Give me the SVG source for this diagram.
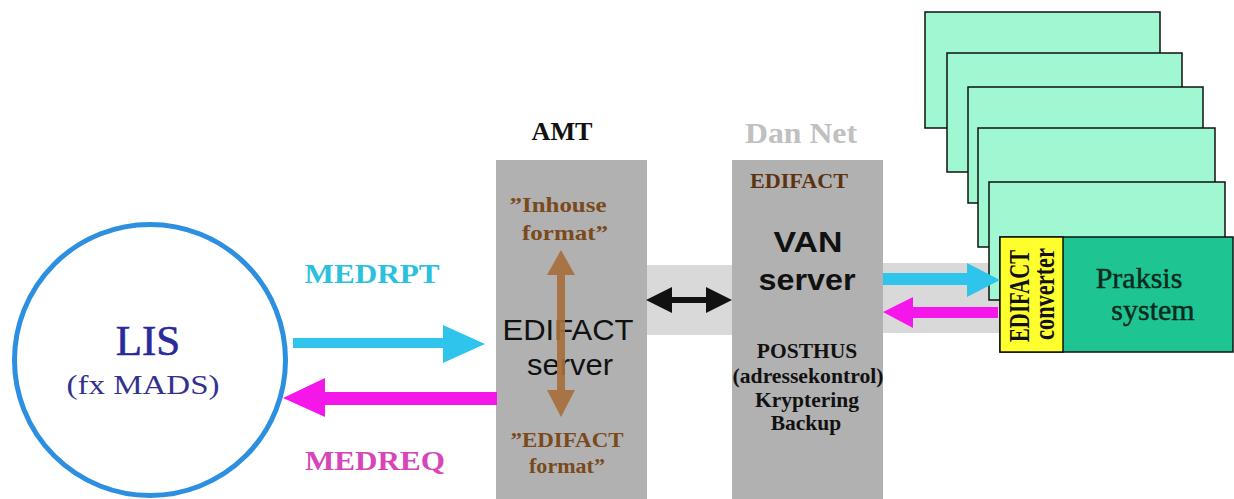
<svg xmlns="http://www.w3.org/2000/svg" width="1234" height="499" viewBox="0 0 1234 499">
<style>
.serif{font-family:"Liberation Serif","Times New Roman",serif}
.sans{font-family:"Liberation Sans",Arial,sans-serif}
.b{font-weight:bold}
.brown{fill:#7a4a1c}
.box{fill:#b1b1b1}
.band{fill:#d9d9d9}
.stack{fill:#a0f8d2;stroke:#111;stroke-width:1.5}
.mid{text-anchor:middle}
</style>
<rect width="1234" height="499" fill="#fff"/>

<g id="bands">
<rect class="band" x="647" y="265" width="85" height="70"/>
<rect class="band" x="883" y="263" width="117" height="70"/>
</g>

<g id="lis">
<circle cx="150" cy="360" r="135.5" fill="none" stroke="#2d8fe0" stroke-width="5"/>
<text class="serif mid" x="148" y="355" font-size="43" fill="#2a2a9a" stroke="#2a2a9a" stroke-width="0.6">LIS</text>
<text class="serif mid" x="143" y="394" font-size="28" fill="#33338f" textLength="153" lengthAdjust="spacingAndGlyphs">(fx MADS)</text>
</g>

<g id="amt">
<text class="serif b mid" x="562" y="140" font-size="26" fill="#111" textLength="61" lengthAdjust="spacingAndGlyphs">AMT</text>
<rect class="box" x="496" y="160" width="151" height="339"/>
<text class="serif b mid brown" x="558" y="212" font-size="22" textLength="97" lengthAdjust="spacingAndGlyphs">”Inhouse</text>
<text class="serif b mid brown" x="565" y="240" font-size="22" textLength="86" lengthAdjust="spacingAndGlyphs">format”</text>
<text class="sans mid" x="568" y="340" font-size="30" fill="#111" textLength="131" lengthAdjust="spacingAndGlyphs">EDIFACT</text>
<text class="sans mid" x="570" y="375" font-size="30" fill="#111" textLength="86" lengthAdjust="spacingAndGlyphs">server</text>
<text class="serif b mid brown" x="567" y="447" font-size="22" textLength="113" lengthAdjust="spacingAndGlyphs">”EDIFACT</text>
<text class="serif b mid brown" x="567" y="473" font-size="22" textLength="76" lengthAdjust="spacingAndGlyphs">format”</text>
<polygon fill="#a86f3c" opacity="0.92" points="561,250 575,275 565,275 565,390 575,390 561,417 547,390 557,390 557,275 547,275"/>
</g>

<g id="dannet">
<text class="serif b mid" x="801" y="143" font-size="30" fill="#c0c0c0" textLength="112" lengthAdjust="spacingAndGlyphs">Dan Net</text>
<rect class="box" x="732" y="160" width="151" height="339"/>
<text class="serif b mid" x="799" y="188" font-size="22" fill="#5c3212" textLength="98" lengthAdjust="spacingAndGlyphs">EDIFACT</text>
<text class="sans b mid" x="808" y="252" font-size="30" fill="#111" textLength="69" lengthAdjust="spacingAndGlyphs">VAN</text>
<text class="sans b mid" x="807" y="290" font-size="30" fill="#111" textLength="97" lengthAdjust="spacingAndGlyphs">server</text>
<text class="serif b mid" x="807" y="358" font-size="21.5" fill="#111">POSTHUS</text>
<text class="serif b mid" x="808" y="383" font-size="21.5" fill="#111" textLength="151" lengthAdjust="spacingAndGlyphs">(adressekontrol)</text>
<text class="serif b mid" x="807" y="407" font-size="21.5" fill="#111">Kryptering</text>
<text class="serif b mid" x="806" y="430" font-size="21.5" fill="#111">Backup</text>
</g>

<g id="praksis">
<rect class="stack" x="925" y="12" width="235" height="116"/>
<rect class="stack" x="947" y="53" width="235" height="119"/>
<rect class="stack" x="968" y="87" width="235" height="116"/>
<rect class="stack" x="978" y="128" width="237" height="119"/>
<rect class="stack" x="989" y="182" width="236" height="118"/>
<rect x="1000" y="237" width="233" height="115" fill="#1ec592" stroke="#111" stroke-width="1.5"/>
<rect x="1000" y="237" width="63" height="115" fill="#ffff2e" stroke="#111" stroke-width="1.5"/>
<text class="serif b mid" transform="translate(1029,296) rotate(-90) scale(1,1.35)" font-size="22" fill="#111" textLength="92" lengthAdjust="spacingAndGlyphs">EDIFACT</text>
<text class="serif b mid" transform="translate(1054,294) rotate(-90) scale(1,1.35)" font-size="22" fill="#111" textLength="92" lengthAdjust="spacingAndGlyphs">converter</text>
<text class="serif mid" x="1139" y="288" font-size="30" fill="#0c2a1e" stroke="#0c2a1e" stroke-width="0.5">Praksis</text>
<text class="serif mid" x="1153" y="320" font-size="30" fill="#0c2a1e" stroke="#0c2a1e" stroke-width="0.5">system</text>
</g>

<g id="connectors">
<polygon fill="#2ec4ec" points="293,338 443,338 443,325 485,344 443,363 443,348 293,348"/>
<polygon fill="#f516ea" points="497,392 325,392 325,378 283,398 325,417 325,405 497,405"/>
<polygon fill="#111" points="646,300 672,287 672,297 706,297 706,287 732,300 706,313 706,303 672,303 672,313"/>
<polygon fill="#2ec4ec" points="883,273 967,273 967,263 1000,280 967,297 967,285 883,285"/>
<polygon fill="#f516ea" points="998,307 913,307 913,297 883,312 913,328 913,318 998,318"/>
</g>

<g id="labels">
<text class="serif b mid" x="372" y="283" font-size="28" fill="#2bc1dc" textLength="135" lengthAdjust="spacingAndGlyphs">MEDRPT</text>
<text class="serif b mid" x="375" y="470" font-size="28" fill="#d646b9" textLength="140" lengthAdjust="spacingAndGlyphs">MEDREQ</text>
</g>
</svg>
